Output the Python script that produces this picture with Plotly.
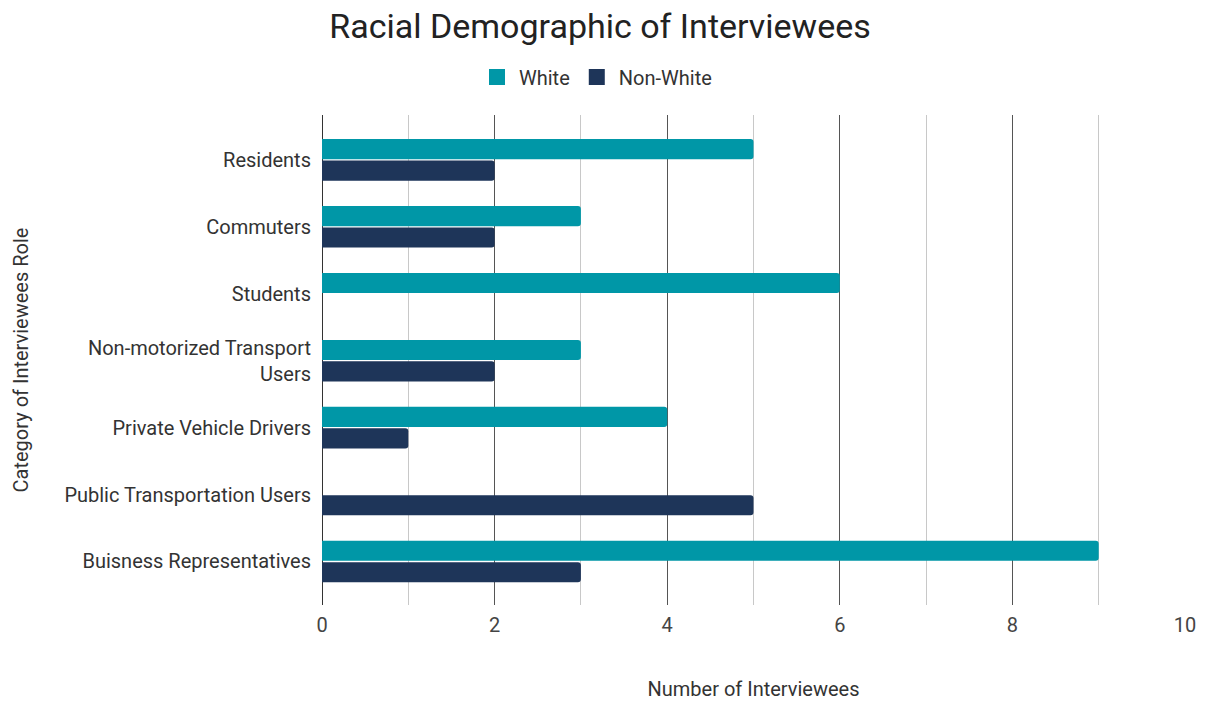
import plotly.graph_objects as go

categories = ["Residents", "Commuters", "Students", "Non-motorized Transport<br>Users",
              "Private Vehicle Drivers", "Public Transportation Users", "Buisness Representatives"]
white = [5, 3, 6, 3, 4, 0, 9]
non_white = [2, 2, 0, 2, 1, 5, 3]
series_names = ["White", "Non-White"]
colors = ["#0097a7", "#1e3559"]

fig = go.Figure()
for name, vals, col in zip(series_names, [white, non_white], colors):
    fig.add_trace(go.Bar(y=categories, x=vals, name=name, orientation="h", showlegend=False,
                         marker=dict(color=col, line=dict(width=0))))
for name, col in zip(series_names, colors):
    fig.add_trace(go.Scatter(x=[None], y=[None], mode="markers", name=name,
                             marker=dict(symbol="square", size=20, color=col)))

fig.update_layout(
    width=1205, height=702,
    margin=dict(l=322, r=20, t=115, b=97, autoexpand=False),
    paper_bgcolor="white", plot_bgcolor="white",
    font=dict(family="Roboto", size=20, color="#444"),
    title=dict(text="Racial Demographic of Interviewees", x=600/1205, xanchor="center",
               y=1 - 26/702, yanchor="middle", font=dict(size=34, color="#222")),
    legend=dict(orientation="h", xref="container", x=596/1205, xanchor="center",
                yref="container", y=1 - 77/702, yanchor="middle",
                font=dict(size=20, color="#333"), itemsizing="trace", itemwidth=34,
                traceorder="normal"),
    barmode="group", bargap=0.36, bargroupgap=0.06, barcornerradius=3,
    xaxis=dict(range=[0, 10], dtick=2, showgrid=True, gridcolor="#555", gridwidth=1,
               zeroline=True, zerolinecolor="#333", zerolinewidth=1,
               minor=dict(dtick=1, showgrid=True, gridcolor="#c8c8c8", gridwidth=1),
               ticks="", showline=False, ticklabelstandoff=6, automargin=False,
               tickfont=dict(size=20, color="#444"),
               title=dict(text="Number of Interviewees", font=dict(size=20, color="#333"),
                          standoff=45)),
    yaxis=dict(autorange=False, range=[6.65, -0.67], showgrid=False, ticks="",
               ticklabelstandoff=10, tickfont=dict(size=20, color="#333"), automargin=False,
               title=dict(text="Category of Interviewees Role", font=dict(size=20, color="#333"),
                          standoff=30)),
)
fig.write_html("out.html")
